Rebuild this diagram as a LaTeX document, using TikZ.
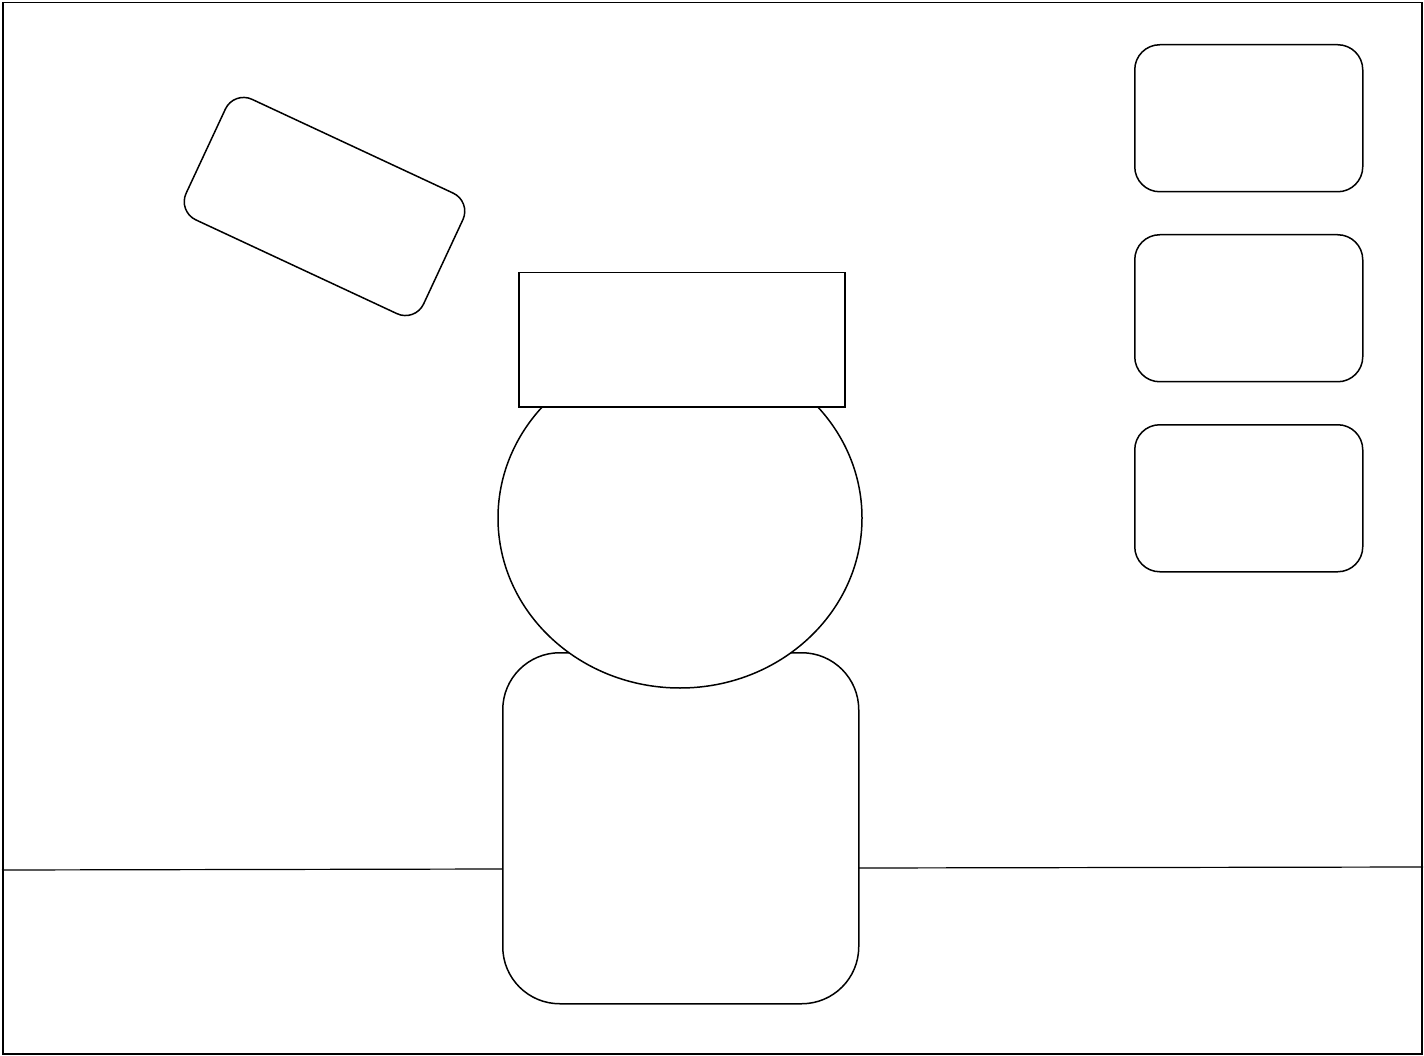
\documentclass[tikz,border=0pt]{standalone}
\usetikzlibrary{shapes.geometric}
\begin{document}
\begin{tikzpicture}[x=1pt,y=-1pt,
  shape line/.style={draw=black,line width=1.5pt,fill=white},
  thin line/.style={draw=black,line width=1.2pt}]
\useasboundingbox (0,0) rectangle (1424,1056);
% frame
\node[shape line,fill=none,rectangle,minimum width=1419pt,minimum height=1051pt,inner sep=0pt,anchor=north west] (frame) at (2,2) {};
% ground line
\coordinate (gl1) at (2,870);
\coordinate (gl2) at (502,869);
\coordinate (gr1) at (858,868);
\coordinate (gr2) at (1423,867);
\draw[thin line] (gl1) -- (gl2);
\draw[thin line] (gr1) -- (gr2);
% body
\node[shape line,rectangle,rounded corners=57pt,minimum width=356pt,minimum height=351pt,inner sep=0pt,anchor=north west] (body) at (502,652) {};
% head
\node[shape line,ellipse,minimum width=364pt,minimum height=340pt,inner sep=0pt] (head) at (680,518) {};
% hat
\node[shape line,rectangle,minimum width=326pt,minimum height=134pt,inner sep=0pt,anchor=north west] (hat) at (518,272) {};
% tilted card
\node[shape line,rectangle,rounded corners=20pt,minimum width=262pt,minimum height=133pt,inner sep=0pt,rotate=-25] (card) at (324.5,206.5) {};
% right boxes
\node[shape line,rectangle,rounded corners=25pt,minimum width=228pt,minimum height=147pt,inner sep=0pt,anchor=north west] (box1) at (1134,44) {};
\node[shape line,rectangle,rounded corners=25pt,minimum width=228pt,minimum height=147pt,inner sep=0pt,anchor=north west] (box2) at (1134,234) {};
\node[shape line,rectangle,rounded corners=25pt,minimum width=228pt,minimum height=147pt,inner sep=0pt,anchor=north west] (box3) at (1134,424) {};
\end{tikzpicture}
\end{document}
